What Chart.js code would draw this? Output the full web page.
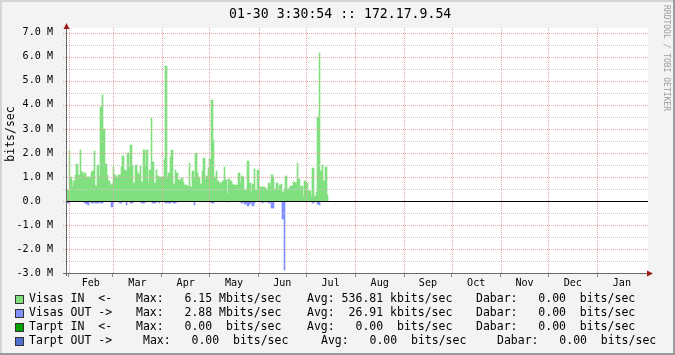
<!DOCTYPE html>
<html>
<head>
<meta charset="utf-8">
<script src="https://cdn.jsdelivr.net/npm/chart.js@4/dist/chart.umd.min.js"></script>
<style>
    html, body { margin: 0; padding: 0; background: #f3f3f3; }
    #wrap { position: relative; width: 675px; height: 355px; overflow: hidden; font-family: "DejaVu Sans Mono", monospace; color: #000; }
    #myChart { position: absolute; left: 0; top: 0; }
    #title { position: absolute; left: 229px; top: 6px; font-size: 13.2px; line-height: 15px; white-space: pre; }
    .rot { position: absolute; white-space: pre; transform: translate(-50%, -50%) rotate(-90deg); }
    #unit { left: 10px; top: 134px; font-size: 11.5px; line-height: 12px; }
    #mark { left: 666px; top: 58px; font-size: 8px; line-height: 8px; color: #9c9c9c; transform: translate(-50%, -50%) rotate(90deg); }
    .seg { position: absolute; white-space: pre; font-size: 11.5px; line-height: 13px; }
    .box { position: absolute; width: 7px; height: 7px; border: 1px solid #333; }
</style>
</head>
<body>
<div id="wrap">
    <canvas id="myChart" width="675" height="355"></canvas>
    <div id="title">01-30 3:30:54 :: 172.17.9.54</div>
    <div id="unit" class="rot">bits/sec</div>
    <div id="mark" class="rot">RRDTOOL / TOBI OETIKER</div>
    <div id="legend"></div>
</div>
<script>
// daily values, Mbits/sec, day 0 = Jan 31
const visasIn = [
    0.45, 2.08, 1.0, 0.6, 0.83, 1.08, 1.54, 1.08, 2.12, 1.2,
    1.1, 1.15, 1.0, 1.0, 1.0, 1.22, 1.25, 2.08, 0.62, 1.5,
    1.0, 3.93, 4.42, 2.98, 1.54, 1.08, 0.83, 0.62, 0.7, 1.43,
    1.08, 1.0, 1.07, 1.08, 1.43, 1.88, 1.3, 1.22, 1.98, 1.39,
    2.33, 1.47, 0.74, 1.5, 1.22, 1.12, 1.47, 0.8, 2.12, 1.46,
    2.12, 0.76, 1.29, 3.47, 1.61, 0.74, 1.29, 1.05, 0.99, 0.99,
    1.0, 1.75, 5.6, 1.0, 1.15, 1.82, 2.12, 0.7, 1.29, 1.15,
    0.88, 0.88, 0.94, 0.8, 0.67, 0.67, 0.62, 1.57, 0.57, 1.25,
    0.99, 1.98, 1.15, 0.99, 0.7, 1.25, 1.78, 0.88, 1.05, 1.36,
    1.75, 4.2, 2.54, 1.0, 1.25, 0.85, 0.74, 0.76, 0.85, 1.43,
    0.88, 0.29, 0.92, 0.83, 0.7, 0.67, 0.67, 0.67, 1.15, 0.76,
    1.05, 1.0, 0.46, 0.49, 1.67, 0.74, 0.39, 0.7, 1.33, 0.46,
    1.29, 0.6, 0.6, 0.6, 0.6, 0.55, 0.5, 0.76, 0.64, 1.08,
    0.94, 0.49, 0.74, 0.49, 0.67, 0.7, 0.39, 0.5, 1.04, 0.5,
    0.53, 0.64, 0.64, 0.8, 0.74, 1.57, 0.9, 0.53, 0.64, 0.18,
    0.83, 0.74, 0.43, 0.42, 0.18, 1.39, 0.21, 0.39, 3.51, 6.15,
    1.26, 1.49, 0.83, 1.43, 0.25
];
const visasOut = [
    -0.07, -0.07, 0, 0, 0, 0, 0, 0, 0, 0,
    0, -0.1, -0.14, -0.17, 0, -0.07, -0.07, 0, -0.07, -0.07,
    0, -0.1, -0.07, 0, 0, 0, 0, 0, -0.24, -0.1,
    0, 0, 0, -0.1, -0.07, 0, 0, -0.17, 0, 0,
    -0.07, -0.07, 0, 0, 0, 0, 0, -0.07, -0.07, -0.05,
    0, 0, 0, 0, -0.07, -0.07, 0, 0, -0.07, 0,
    0, 0, -0.07, 0, -0.07, -0.07, 0, -0.07, -0.07, -0.05,
    0, 0, 0, 0, 0, 0, 0, 0, 0, 0,
    -0.17, 0, 0, 0, 0, -0.05, 0, 0, 0, 0,
    0, -0.07, -0.07, 0, 0, 0, 0, 0, 0, 0,
    0, -0.05, 0, 0, 0, 0, 0, 0, 0, 0,
    -0.07, 0, -0.12, -0.1, -0.2, -0.12, 0, -0.23, -0.1, 0,
    0, -0.05, 0, -0.07, -0.05, 0, 0, -0.07, 0, -0.3,
    -0.3, 0, 0, 0, 0, 0, -0.75, -2.88, 0, 0,
    0, 0, 0, 0, 0, 0, 0, 0, 0, 0,
    0, 0, 0, 0, 0, -0.07, 0, 0, -0.14, -0.17,
    0, 0, 0, 0, 0
];

const monthStarts = [1, 29, 60, 90, 121, 151, 182, 213, 243, 274, 304, 335];
const monthMids = [15, 44.5, 75, 105.5, 136, 166.5, 197.5, 228, 258.5, 289, 319.5, 350.5];
const monthNames = ['Feb', 'Mar', 'Apr', 'May', 'Jun', 'Jul', 'Aug', 'Sep', 'Oct', 'Nov', 'Dec', 'Jan'];
const yTicks = [-3, -2.5, -2, -1.5, -1, -0.5, 0, 0.5, 1, 1.5, 2, 2.5, 3, 3.5, 4, 4.5, 5, 5.5, 6, 6.5, 7];

const seriesNames = ['Visas IN  <-', 'Visas OUT ->', 'Tarpt IN  <-', 'Tarpt OUT ->'];
const seriesColors = ['#80e080', '#8090ff', '#00a000', '#5070d0'];
const maxValues = ['6.15', '2.88', '0.00', '0.00'];
const maxPrefix = ['M', 'M', ' ', ' '];
const avgValues = ['536.81', '26.91', '0.00', '0.00'];
const avgPrefix = ['k', 'k', ' ', ' '];
const nowValues = ['0.00', '0.00', '0.00', '0.00'];
const nowPrefix = [' ', ' ', ' ', ' '];

const MONO = '"DejaVu Sans Mono", monospace';
const PINK = '#e6a6a6';
const GREY = '#cccccc';

// legend rows
const legend = document.getElementById('legend');
const rowY = [299, 313, 327, 341];
const segX = [[29, 136, 307, 476], [29, 136, 307, 476], [29, 136, 307, 476], [29, 143, 321, 497]];
seriesNames.forEach((name, i) => {
    const box = document.createElement('div');
    box.className = 'box';
    box.style.left = '15px';
    box.style.top = (rowY[i] - 4) + 'px';
    box.style.background = seriesColors[i];
    legend.appendChild(box);
    const texts = [
        name,
        'Max:' + maxValues[i].padStart(7) + ' ' + maxPrefix[i] + 'bits/sec',
        'Avg:' + avgValues[i].padStart(7) + ' ' + avgPrefix[i] + 'bits/sec',
        'Dabar:' + nowValues[i].padStart(7) + ' ' + nowPrefix[i] + 'bits/sec'
    ];
    texts.forEach((t, j) => {
        const s = document.createElement('div');
        s.className = 'seg';
        s.textContent = t;
        s.style.left = segX[i][j] + 'px';
        s.style.top = (rowY[i] - 7) + 'px';
        legend.appendChild(s);
    });
});

// dotted line, one pixel on / one off
function dotsH(c, x1, x2, y) {
    for (let x = x1; x <= x2; x += 2) c.fillRect(x, y, 1, 1);
}
function dotsV(c, x, y1, y2) {
    for (let y = y1; y <= y2; y += 2) c.fillRect(x, y, 1, 1);
}

const rrdPlugin = {
    id: 'rrd',
    beforeDraw(chart) {
        const c = chart.ctx, a = chart.chartArea;
        c.save();
        c.fillStyle = '#f3f3f3';
        c.fillRect(0, 0, chart.width, chart.height);
        c.fillStyle = '#d4d4d4';
        c.fillRect(0, 0, chart.width, 2);
        c.fillRect(0, 0, 2, chart.height);
        c.fillStyle = '#9a9a9a';
        c.fillRect(chart.width - 2, 0, 2, chart.height);
        c.fillRect(0, chart.height - 2, chart.width, 2);
        c.fillStyle = '#ffffff';
        c.fillRect(a.left, a.top, a.right - a.left, a.bottom - a.top);
        c.restore();
    },
    // snap bars to whole pixels so neighbouring days join without seams
    beforeDatasetsDraw(chart) {
        chart.getSortedVisibleDatasetMetas().forEach(meta => {
            meta.data.forEach(el => {
                const L = Math.round(el.x - el.width / 2);
                const R = Math.round(el.x + el.width / 2);
                el.x = (L + R) / 2;
                el.width = Math.max(1, R - L);
                el.y = Math.round(el.y);
                el.base = Math.round(el.base);
            });
        });
    },
    afterDatasetsDraw(chart) {
        const c = chart.ctx, a = chart.chartArea;
        const xs = chart.scales.x, ys = chart.scales.y;
        const top = Math.round(a.top), bottom = Math.round(a.bottom);
        const left = Math.round(a.left), right = Math.round(a.right);
        c.save();
        yTicks.filter(v => !Number.isInteger(v)).forEach(v => {
            c.fillStyle = GREY;
            dotsH(c, left - 4, right - 1, Math.round(ys.getPixelForValue(v)));
        });
        monthStarts.forEach(m => {
            c.fillStyle = PINK;
            dotsV(c, Math.round(xs.getPixelForValue(m)), top, bottom);
        });
        yTicks.filter(v => Number.isInteger(v)).forEach(v => {
            c.fillStyle = PINK;
            dotsH(c, left - 4, right - 1, Math.round(ys.getPixelForValue(v)));
        });
        const y0 = Math.round(ys.getPixelForValue(0));
        c.fillStyle = '#000000';
        c.fillRect(left, y0, right - left, 1);
        c.fillStyle = '#6a6a6a';
        c.fillRect(left - 1, top - 2, 1, bottom - top + 5);
        c.fillRect(left - 4, bottom, right - left + 6, 1);
        c.fillStyle = '#9b1b1b';
        c.beginPath();
        c.moveTo(left - 0.5, top - 5);
        c.lineTo(left - 3.5, top + 1);
        c.lineTo(left + 2.5, top + 1);
        c.closePath();
        c.fill();
        c.beginPath();
        c.moveTo(right + 5, bottom + 0.5);
        c.lineTo(right - 1, bottom - 2.5);
        c.lineTo(right - 1, bottom + 3.5);
        c.closePath();
        c.fill();
        c.restore();
    }
};

const ctx = document.getElementById('myChart').getContext('2d');

let myChart = new Chart(ctx, {
    type: 'bar',
    data: {
        datasets: [
            {
                label: 'Visas IN',
                data: visasIn.map((v, i) => ({ x: i + 0.5, y: v })),
                backgroundColor: seriesColors[0],
                borderWidth: 0, grouped: false, barPercentage: 1, categoryPercentage: 1
            },
            {
                label: 'Visas OUT',
                data: visasOut.map((v, i) => ({ x: i + 0.5, y: v })),
                backgroundColor: seriesColors[1],
                borderWidth: 0, grouped: false, barPercentage: 1, categoryPercentage: 1
            }
        ]
    },
    options: {
        responsive: false,
        animation: false,
        devicePixelRatio: 1,
        layout: { padding: { top: 28, right: 27, left: 0, bottom: 0 } },
        plugins: {
            legend: { display: false },
            tooltip: { enabled: false }
        },
        scales: {
            x: {
                type: 'linear',
                min: 0,
                max: 367,
                offset: false,
                grid: {
                    offset: false,
                    drawOnChartArea: false,
                    tickColor: c => monthStarts.includes(c.tick.value) ? '#888888' : 'rgba(0,0,0,0)',
                    tickLength: 4
                },
                border: { display: false },
                ticks: {
                    autoSkip: false,
                    maxRotation: 0,
                    padding: 0,
                    color: '#000',
                    font: { family: MONO, size: 10.1 },
                    callback: v => {
                        const k = monthMids.indexOf(v);
                        return k >= 0 ? monthNames[k] : '';
                    }
                },
                afterBuildTicks: axis => {
                    axis.ticks = monthStarts.concat(monthMids).sort((p, q) => p - q).map(v => ({ value: v }));
                },
                afterFit: axis => { axis.height = 82; }
            },
            y: {
                min: -3,
                max: 7.2,
                grid: { display: false },
                border: { display: false },
                ticks: {
                    padding: 6,
                    color: '#000',
                    font: { family: MONO, size: 10.1 },
                    callback: v => {
                        if (!Number.isInteger(v)) return '';
                        return v === 0 ? '0.0  ' : v.toFixed(1) + ' M';
                    }
                },
                afterBuildTicks: axis => {
                    axis.ticks = yTicks.map(v => ({ value: v }));
                },
                afterFit: axis => { axis.width = 67; }
            }
        }
    },
    plugins: [rrdPlugin]
});
</script>
</body>
</html>
